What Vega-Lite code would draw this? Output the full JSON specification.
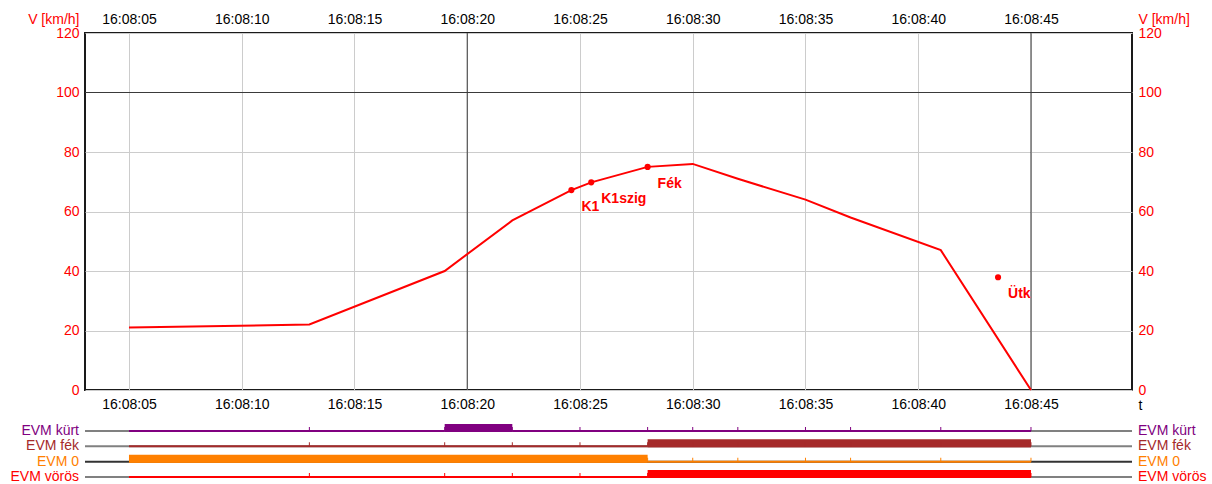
{
  "$schema": "https://vega.github.io/schema/vega-lite/v6.json",
  "background": "white",
  "padding": {"left": 10, "top": 11, "right": 0, "bottom": 0},
  "spacing": 31,
  "bounds": "flush",
  "config": {
    "font": "Liberation Sans",
    "view": {"stroke": null},
    "axis": {
      "labelFont": "Liberation Sans",
      "labelFontSize": 14,
      "titleFont": "Liberation Sans",
      "titleFontSize": 14,
      "titleFontWeight": "normal",
      "ticks": false,
      "domain": false,
      "labelPadding": 7,
      "labelFlush": false,
      "labelOverlap": false
    }
  },
  "datasets": {
    "speed": [
      {"t": "2024-01-01T16:08:05", "v": 21},
      {"t": "2024-01-01T16:08:13", "v": 22},
      {"t": "2024-01-01T16:08:19", "v": 40},
      {"t": "2024-01-01T16:08:22", "v": 57},
      {"t": "2024-01-01T16:08:24.620", "v": 67.2},
      {"t": "2024-01-01T16:08:25.500", "v": 69.8},
      {"t": "2024-01-01T16:08:28", "v": 75},
      {"t": "2024-01-01T16:08:30", "v": 76},
      {"t": "2024-01-01T16:08:32", "v": 71},
      {"t": "2024-01-01T16:08:35", "v": 64},
      {"t": "2024-01-01T16:08:37", "v": 58},
      {"t": "2024-01-01T16:08:41", "v": 47},
      {"t": "2024-01-01T16:08:45", "v": 0}
    ],
    "marks": [
      {"t": "2024-01-01T16:08:24.620", "v": 67.2, "label": "K1"},
      {"t": "2024-01-01T16:08:25.500", "v": 69.8, "label": "K1szig"},
      {"t": "2024-01-01T16:08:28", "v": 75, "label": "Fék"},
      {"t": "2024-01-01T16:08:43.540", "v": 37.9, "label": "Ütk"}
    ],
    "darkx": [
      {"t": "2024-01-01T16:08:20"},
      {"t": "2024-01-01T16:08:45"}
    ],
    "darky": [
      {"v": 100}
    ],
    "frame": [
      {"lane": 0, "sig": "EVM kürt", "from": "2024-01-01T16:08:03.050", "to": "2024-01-01T16:08:49.480"},
      {"lane": 1, "sig": "EVM fék", "from": "2024-01-01T16:08:03.050", "to": "2024-01-01T16:08:49.480"},
      {"lane": 2, "sig": "EVM 0", "from": "2024-01-01T16:08:03.050", "to": "2024-01-01T16:08:49.480"},
      {"lane": 3, "sig": "EVM vörös", "from": "2024-01-01T16:08:03.050", "to": "2024-01-01T16:08:49.480"}
    ],
    "segs": [
      {"sig": "EVM kürt", "lane": 0, "state": 0, "from": "2024-01-01T16:08:05", "to": "2024-01-01T16:08:19"},
      {"sig": "EVM kürt", "lane": 0, "state": 1, "from": "2024-01-01T16:08:19", "to": "2024-01-01T16:08:22"},
      {"sig": "EVM kürt", "lane": 0, "state": 0, "from": "2024-01-01T16:08:22", "to": "2024-01-01T16:08:45"},
      {"sig": "EVM fék", "lane": 1, "state": 0, "from": "2024-01-01T16:08:05", "to": "2024-01-01T16:08:28"},
      {"sig": "EVM fék", "lane": 1, "state": 1, "from": "2024-01-01T16:08:28", "to": "2024-01-01T16:08:45"},
      {"sig": "EVM 0", "lane": 2, "state": 1, "from": "2024-01-01T16:08:05", "to": "2024-01-01T16:08:28"},
      {"sig": "EVM 0", "lane": 2, "state": 0, "from": "2024-01-01T16:08:28", "to": "2024-01-01T16:08:45"},
      {"sig": "EVM vörös", "lane": 3, "state": 0, "from": "2024-01-01T16:08:05", "to": "2024-01-01T16:08:28"},
      {"sig": "EVM vörös", "lane": 3, "state": 1, "from": "2024-01-01T16:08:28", "to": "2024-01-01T16:08:45"}
    ],
    "samples": [
      {"t": "2024-01-01T16:08:13", "lanes": [0, 1, 2, 3], "sigs": ["EVM kürt", "EVM fék", "EVM 0", "EVM vörös"]},
      {"t": "2024-01-01T16:08:19", "lanes": [0, 1, 2, 3], "sigs": ["EVM kürt", "EVM fék", "EVM 0", "EVM vörös"]},
      {"t": "2024-01-01T16:08:22", "lanes": [0, 1, 2, 3], "sigs": ["EVM kürt", "EVM fék", "EVM 0", "EVM vörös"]},
      {"t": "2024-01-01T16:08:25", "lanes": [0, 1, 2, 3], "sigs": ["EVM kürt", "EVM fék", "EVM 0", "EVM vörös"]},
      {"t": "2024-01-01T16:08:28", "lanes": [0, 1, 2, 3], "sigs": ["EVM kürt", "EVM fék", "EVM 0", "EVM vörös"]},
      {"t": "2024-01-01T16:08:30", "lanes": [0, 1, 2, 3], "sigs": ["EVM kürt", "EVM fék", "EVM 0", "EVM vörös"]},
      {"t": "2024-01-01T16:08:32", "lanes": [0, 1, 2, 3], "sigs": ["EVM kürt", "EVM fék", "EVM 0", "EVM vörös"]},
      {"t": "2024-01-01T16:08:35", "lanes": [0, 1, 2, 3], "sigs": ["EVM kürt", "EVM fék", "EVM 0", "EVM vörös"]},
      {"t": "2024-01-01T16:08:37", "lanes": [0, 1, 2, 3], "sigs": ["EVM kürt", "EVM fék", "EVM 0", "EVM vörös"]},
      {"t": "2024-01-01T16:08:41", "lanes": [0, 1, 2, 3], "sigs": ["EVM kürt", "EVM fék", "EVM 0", "EVM vörös"]},
      {"t": "2024-01-01T16:08:45", "lanes": [0, 1, 2, 3], "sigs": ["EVM kürt", "EVM fék", "EVM 0", "EVM vörös"]}
    ]
  },
  "vconcat": [
    {
      "width": 1047,
      "height": 357,
      "view": {"stroke": "#1a1a1a", "strokeWidth": 2},
      "layer": [
        {
          "data": {"name": "darkx"},
          "mark": {"type": "rule", "color": "#3a3a3a", "strokeWidth": 1},
          "encoding": {
            "x": {"field": "t", "type": "temporal", "axis": null,
              "scale": {"domain": [
                {"year": 2024, "month": 1, "date": 1, "hours": 16, "minutes": 8, "seconds": 3, "milliseconds": 50},
                {"year": 2024, "month": 1, "date": 1, "hours": 16, "minutes": 8, "seconds": 49, "milliseconds": 480}]}}
          }
        },
        {
          "data": {"name": "darky"},
          "mark": {"type": "rule", "color": "#3a3a3a", "strokeWidth": 1},
          "encoding": {
            "y": {"field": "v", "type": "quantitative", "axis": null,
              "scale": {"domain": [0, 120], "nice": false, "zero": false}}
          }
        },
        {
          "data": {"name": "speed"},
          "mark": {"type": "line", "color": "#ff0000", "strokeWidth": 2},
          "encoding": {
            "x": {"field": "t", "type": "temporal",
              "scale": {"domain": [
                {"year": 2024, "month": 1, "date": 1, "hours": 16, "minutes": 8, "seconds": 3, "milliseconds": 50},
                {"year": 2024, "month": 1, "date": 1, "hours": 16, "minutes": 8, "seconds": 49, "milliseconds": 480}]},
              "axis": {"orient": "bottom", "format": "%H:%M:%S",
                "values": [
                  {"year": 2024, "month": 1, "date": 1, "hours": 16, "minutes": 8, "seconds": 5},
                  {"year": 2024, "month": 1, "date": 1, "hours": 16, "minutes": 8, "seconds": 10},
                  {"year": 2024, "month": 1, "date": 1, "hours": 16, "minutes": 8, "seconds": 15},
                  {"year": 2024, "month": 1, "date": 1, "hours": 16, "minutes": 8, "seconds": 20},
                  {"year": 2024, "month": 1, "date": 1, "hours": 16, "minutes": 8, "seconds": 25},
                  {"year": 2024, "month": 1, "date": 1, "hours": 16, "minutes": 8, "seconds": 30},
                  {"year": 2024, "month": 1, "date": 1, "hours": 16, "minutes": 8, "seconds": 35},
                  {"year": 2024, "month": 1, "date": 1, "hours": 16, "minutes": 8, "seconds": 40},
                  {"year": 2024, "month": 1, "date": 1, "hours": 16, "minutes": 8, "seconds": 45}],
                "grid": true, "gridColor": "#cccccc", "gridWidth": 1, "labelColor": "#000000",
                "title": "t", "titleColor": "#000000", "titleX": 1053, "titleY": 15, "titleAlign": "left", "titleBaseline": "middle"}},
            "y": {"field": "v", "type": "quantitative",
              "scale": {"domain": [0, 120], "nice": false, "zero": false},
              "axis": {"orient": "left", "values": [0, 20, 40, 60, 80, 100, 120], "grid": true, "gridColor": "#cccccc",
                "labelColor": "#ff0000", "labelPadding": 6,
                "title": "V [km/h]", "titleColor": "#ff0000", "titleAngle": 0, "titleAlign": "right", "titleBaseline": "middle",
                "titleX": -6, "titleY": -14}}
          }
        },
        {
          "data": {"name": "marks"},
          "mark": {"type": "circle", "color": "#ff0000", "opacity": 1, "size": 38},
          "encoding": {
            "x": {"field": "t", "type": "temporal",
              "scale": {"domain": [
                {"year": 2024, "month": 1, "date": 1, "hours": 16, "minutes": 8, "seconds": 3, "milliseconds": 50},
                {"year": 2024, "month": 1, "date": 1, "hours": 16, "minutes": 8, "seconds": 49, "milliseconds": 480}]},
              "axis": {"orient": "top", "format": "%H:%M:%S",
                "values": [
                  {"year": 2024, "month": 1, "date": 1, "hours": 16, "minutes": 8, "seconds": 5},
                  {"year": 2024, "month": 1, "date": 1, "hours": 16, "minutes": 8, "seconds": 10},
                  {"year": 2024, "month": 1, "date": 1, "hours": 16, "minutes": 8, "seconds": 15},
                  {"year": 2024, "month": 1, "date": 1, "hours": 16, "minutes": 8, "seconds": 20},
                  {"year": 2024, "month": 1, "date": 1, "hours": 16, "minutes": 8, "seconds": 25},
                  {"year": 2024, "month": 1, "date": 1, "hours": 16, "minutes": 8, "seconds": 30},
                  {"year": 2024, "month": 1, "date": 1, "hours": 16, "minutes": 8, "seconds": 35},
                  {"year": 2024, "month": 1, "date": 1, "hours": 16, "minutes": 8, "seconds": 40},
                  {"year": 2024, "month": 1, "date": 1, "hours": 16, "minutes": 8, "seconds": 45}],
                "grid": false, "labelColor": "#000000", "title": null}},
            "y": {"field": "v", "type": "quantitative",
              "scale": {"domain": [0, 120], "nice": false, "zero": false},
              "axis": {"orient": "right", "values": [0, 20, 40, 60, 80, 100, 120], "grid": false,
                "labelColor": "#ff0000", "labelPadding": 6,
                "title": "V [km/h]", "titleColor": "#ff0000", "titleAngle": 0, "titleAlign": "left", "titleBaseline": "middle",
                "titleX": 6, "titleY": -14}}
          }
        },
        {
          "data": {"name": "marks"},
          "mark": {"type": "text", "color": "#ff0000", "align": "left", "baseline": "middle", "dx": 10, "dy": 17,
            "fontWeight": "bold", "fontSize": 14, "font": "Liberation Sans"},
          "encoding": {
            "x": {"field": "t", "type": "temporal", "axis": null,
              "scale": {"domain": [
                {"year": 2024, "month": 1, "date": 1, "hours": 16, "minutes": 8, "seconds": 3, "milliseconds": 50},
                {"year": 2024, "month": 1, "date": 1, "hours": 16, "minutes": 8, "seconds": 49, "milliseconds": 480}]}},
            "y": {"field": "v", "type": "quantitative", "axis": null,
              "scale": {"domain": [0, 120], "nice": false, "zero": false}},
            "text": {"field": "label"}
          }
        }
      ],
      "resolve": {"axis": {"x": "independent", "y": "independent"}}
    },
    {
      "width": 1047,
      "height": 60,
      "layer": [
        {
          "data": {"name": "frame"},
          "mark": {"type": "rule", "strokeWidth": 2},
          "encoding": {
            "x": {"field": "from", "type": "temporal", "axis": null,
              "scale": {"domain": [
                {"year": 2024, "month": 1, "date": 1, "hours": 16, "minutes": 8, "seconds": 3, "milliseconds": 50},
                {"year": 2024, "month": 1, "date": 1, "hours": 16, "minutes": 8, "seconds": 49, "milliseconds": 480}]}},
            "x2": {"field": "to"},
            "y": {"field": "lane", "type": "quantitative", "axis": null,
              "scale": {"domain": [-0.652, 3.261], "reverse": true, "nice": false, "zero": false}},
            "color": {"condition": {"test": "datum.lane == 2", "value": "#333333"}, "value": "#808080"}
          }
        },
        {
          "data": {"name": "segs"},
          "mark": {"type": "rule", "strokeWidth": 2},
          "encoding": {
            "x": {"field": "from", "type": "temporal", "axis": null,
              "scale": {"domain": [
                {"year": 2024, "month": 1, "date": 1, "hours": 16, "minutes": 8, "seconds": 3, "milliseconds": 50},
                {"year": 2024, "month": 1, "date": 1, "hours": 16, "minutes": 8, "seconds": 49, "milliseconds": 480}]}},
            "x2": {"field": "to"},
            "y": {"field": "lane", "type": "quantitative", "axis": null,
              "scale": {"domain": [-0.652, 3.261], "reverse": true, "nice": false, "zero": false}},
            "color": {"field": "sig", "type": "nominal", "legend": null,
              "scale": {"domain": ["EVM kürt", "EVM fék", "EVM 0", "EVM vörös"], "range": ["#800080", "#a52a2a", "#ff8000", "#ff0000"]}}
          }
        },
        {
          "data": {"name": "segs"},
          "transform": [{"filter": "datum.state == 1"}],
          "mark": {"type": "rule", "strokeWidth": 8, "yOffset": -3},
          "encoding": {
            "x": {"field": "from", "type": "temporal", "axis": null,
              "scale": {"domain": [
                {"year": 2024, "month": 1, "date": 1, "hours": 16, "minutes": 8, "seconds": 3, "milliseconds": 50},
                {"year": 2024, "month": 1, "date": 1, "hours": 16, "minutes": 8, "seconds": 49, "milliseconds": 480}]}},
            "x2": {"field": "to"},
            "y": {"field": "lane", "type": "quantitative", "axis": null,
              "scale": {"domain": [-0.652, 3.261], "reverse": true, "nice": false, "zero": false}},
            "color": {"field": "sig", "type": "nominal", "legend": null,
              "scale": {"domain": ["EVM kürt", "EVM fék", "EVM 0", "EVM vörös"], "range": ["#800080", "#a52a2a", "#ff8000", "#ff0000"]}}
          }
        },
        {
          "data": {"name": "samples"},
          "transform": [{"flatten": ["lanes", "sigs"], "as": ["lane", "sig"]}],
          "mark": {"type": "tick", "orient": "vertical", "size": 4, "thickness": 1, "yOffset": -2, "opacity": 1},
          "encoding": {
            "x": {"field": "t", "type": "temporal", "axis": null,
              "scale": {"domain": [
                {"year": 2024, "month": 1, "date": 1, "hours": 16, "minutes": 8, "seconds": 3, "milliseconds": 50},
                {"year": 2024, "month": 1, "date": 1, "hours": 16, "minutes": 8, "seconds": 49, "milliseconds": 480}]}},
            "y": {"field": "lane", "type": "quantitative", "axis": null,
              "scale": {"domain": [-0.652, 3.261], "reverse": true, "nice": false, "zero": false}},
            "color": {"field": "sig", "type": "nominal", "legend": null,
              "scale": {"domain": ["EVM kürt", "EVM fék", "EVM 0", "EVM vörös"], "range": ["#800080", "#a52a2a", "#ff8000", "#ff0000"]}}
          }
        },
        {
          "data": {"name": "frame"},
          "mark": {"type": "text", "align": "right", "baseline": "middle", "dx": -6, "fontSize": 14, "font": "Liberation Sans"},
          "encoding": {
            "x": {"field": "from", "type": "temporal", "axis": null,
              "scale": {"domain": [
                {"year": 2024, "month": 1, "date": 1, "hours": 16, "minutes": 8, "seconds": 3, "milliseconds": 50},
                {"year": 2024, "month": 1, "date": 1, "hours": 16, "minutes": 8, "seconds": 49, "milliseconds": 480}]}},
            "y": {"field": "lane", "type": "quantitative", "axis": null,
              "scale": {"domain": [-0.652, 3.261], "reverse": true, "nice": false, "zero": false}},
            "text": {"field": "sig"},
            "color": {"field": "sig", "type": "nominal", "legend": null,
              "scale": {"domain": ["EVM kürt", "EVM fék", "EVM 0", "EVM vörös"], "range": ["#800080", "#a52a2a", "#ff8000", "#ff0000"]}}
          }
        },
        {
          "data": {"name": "frame"},
          "mark": {"type": "text", "align": "left", "baseline": "middle", "dx": 6, "fontSize": 14, "font": "Liberation Sans"},
          "encoding": {
            "x": {"field": "to", "type": "temporal", "axis": null,
              "scale": {"domain": [
                {"year": 2024, "month": 1, "date": 1, "hours": 16, "minutes": 8, "seconds": 3, "milliseconds": 50},
                {"year": 2024, "month": 1, "date": 1, "hours": 16, "minutes": 8, "seconds": 49, "milliseconds": 480}]}},
            "y": {"field": "lane", "type": "quantitative", "axis": null,
              "scale": {"domain": [-0.652, 3.261], "reverse": true, "nice": false, "zero": false}},
            "text": {"field": "sig"},
            "color": {"field": "sig", "type": "nominal", "legend": null,
              "scale": {"domain": ["EVM kürt", "EVM fék", "EVM 0", "EVM vörös"], "range": ["#800080", "#a52a2a", "#ff8000", "#ff0000"]}}
          }
        }
      ]
    }
  ]
}
